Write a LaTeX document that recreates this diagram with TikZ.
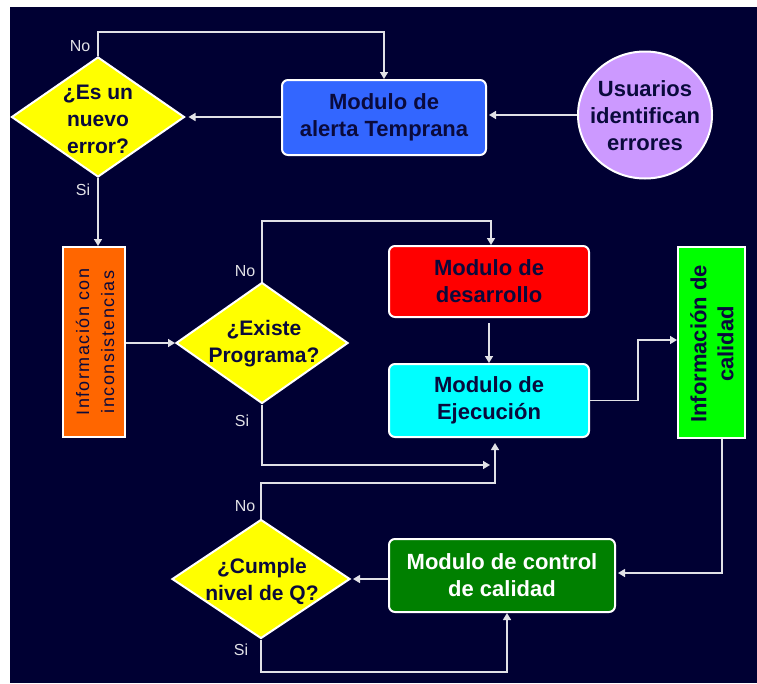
\documentclass[tikz,border=0pt]{standalone}
\usepackage{fontspec}
\setmainfont{Liberation Sans}
\newfontfamily\spacedsans[LetterSpace=8]{Liberation Sans}
\usetikzlibrary{shapes.geometric,arrows.meta,calc}
\definecolor{bgnavy}{RGB}{0,0,51}
\definecolor{txtnavy}{RGB}{10,10,60}
\definecolor{linegray}{RGB}{225,225,230}
\definecolor{yell}{RGB}{255,255,0}
\definecolor{blu}{RGB}{51,102,255}
\definecolor{lilac}{RGB}{204,153,255}
\definecolor{orng}{RGB}{255,102,0}
\definecolor{rd}{RGB}{255,0,0}
\definecolor{cyn}{RGB}{0,255,255}
\definecolor{lgreen}{RGB}{0,255,0}
\definecolor{dgreen}{RGB}{0,128,0}
\tikzset{
  box/.style={draw=white, line width=2pt, rounded corners=6pt, inner sep=0pt},
  sqbox/.style={draw=white, line width=2pt, inner sep=0pt},
  dia/.style={diamond, draw=white, line width=2pt, fill=yell, inner sep=0pt},
  btext/.style={text=txtnavy, font=\fontsize{21}{27}\selectfont\bfseries, align=center},
  bxtext/.style={text=txtnavy, font=\fontsize{22}{27}\selectfont\bfseries, align=center},
  rtext/.style={text=txtnavy, font=\spacedsans\fontsize{18}{25}\selectfont, align=center, rotate=90},
  lab/.style={text=linegray, font=\fontsize{16}{18}\selectfont},
  arr/.style={draw=linegray, line width=1.5pt, -{Triangle[length=7pt,width=8pt]}},
  ln/.style={draw=linegray, line width=1.5pt}
}
\begin{document}
\begin{tikzpicture}[x=1pt,y=-1pt]
\useasboundingbox (0,0) rectangle (757,683);
\fill[white] (0,0) rectangle (757,683);
\fill[bgnavy] (10,7) rectangle (757,683);

% nodes
\node[dia, minimum width=173pt, minimum height=120pt] (d1) at (98,117) {};
\node[btext] (d1t) at (98,119) {¿Es un\\nuevo\\error?};
\node[box, fill=blu, minimum width=204pt, minimum height=75pt, bxtext] (blue) at (384,117.5) {Modulo de\\alerta Temprana};
\node[ellipse, draw=white, line width=2pt, fill=lilac, minimum width=134pt, minimum height=127pt, inner sep=0pt] (circ) at (645,115) {};
\node[bxtext] (circt) at (645,116) {Usuarios\\identifican\\errores};
\node[sqbox, fill=orng, minimum width=62pt, minimum height=190pt] (orange) at (94,342) {};
\node[rtext] (oranget) at (95,342) {Información con\\inconsistencias};
\node[dia, minimum width=172pt, minimum height=121pt] (d2) at (262,343) {};
\node[btext] (d2t) at (264,344) {¿Existe\\Programa?};
\node[box, fill=rd, minimum width=200pt, minimum height=71pt, bxtext] (red) at (489,281.5) {Modulo de\\desarrollo};
\node[box, fill=cyn, minimum width=200pt, minimum height=73pt, bxtext] (cyan) at (489,400.5) {Modulo de\\Ejecución};
\node[sqbox, fill=lgreen, minimum width=67pt, minimum height=191pt] (green) at (711.5,342.5) {};
\node[bxtext, rotate=90] (greent) at (712,344) {Información de\\calidad};
\node[box, fill=dgreen, minimum width=226pt, minimum height=73pt, bxtext, text=white] (dkg) at (502,575.5) {Modulo de control\\de calidad};
\node[dia, minimum width=178pt, minimum height=119pt] (d3) at (261,579) {};
\node[btext] (d3t) at (262,581) {¿Cumple\\nivel de Q?};

% coordinates
\coordinate (n1) at (384,32);
\coordinate (n2) at (491,221);
\coordinate (s2) at (262,465);
\coordinate (e2) at (490,465);
\coordinate (n3) at (495,483);
\coordinate (m1) at (638,340);
\coordinate (g1) at (722,573);
\coordinate (s3) at (507,672);

% connectors
\draw[arr, shorten >=2pt] (circ.west) -- (circ.west -| blue.east);
\draw[arr, shorten >=3pt] (blue.west |- d1.east) -- (d1.east);
\draw[arr] (d1.north) |- (n1) -- (blue.north);
\draw[arr] (d1.south) -- (d1.south |- orange.north);
\draw[arr] (orange.east |- d2.west) -- (d2.west);
\draw[arr] (d2.north) |- (n2) -- (n2 |- red.north);
\draw[arr] (d2.south) -- (s2) -- (e2);
\draw[arr, shorten <=5pt] (red.south) -- (cyan.north);
\draw[arr, shorten >=5pt] (d3.north) |- (n3) -- (n3 |- cyan.south);
\draw[arr] (cyan.east) -| (m1) -- (m1 -| green.west);
\draw[arr, shorten >=2pt] (g1 |- green.south) -- (g1) -- (g1 -| dkg.east);
\draw[arr, shorten >=2pt] (dkg.west |- d3.east) -- (d3.east);
\draw[arr] (d3.south) |- (s3) -- (s3 |- dkg.south);

% labels
\node[lab] (l1) at (80,46) {No};
\node[lab] (l2) at (83,190) {Si};
\node[lab] (l3) at (245,271) {No};
\node[lab] (l4) at (242,421) {Si};
\node[lab] (l5) at (245,506) {No};
\node[lab] (l6) at (241,650) {Si};
\end{tikzpicture}
\end{document}
